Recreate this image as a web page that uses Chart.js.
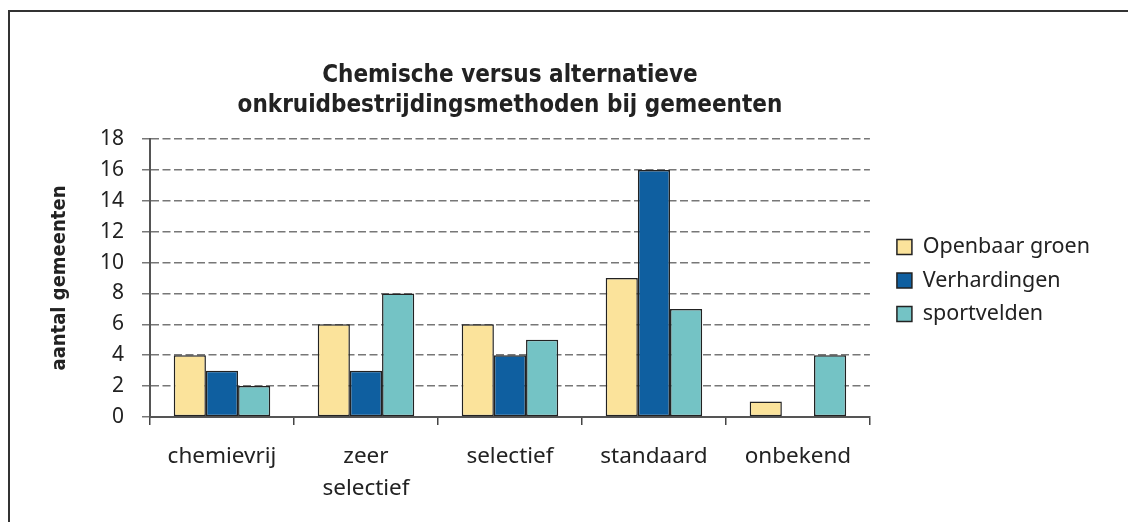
<!DOCTYPE html>
<html>
<head>
<meta charset="utf-8">
<script src="https://cdn.jsdelivr.net/npm/chart.js@4/dist/chart.umd.min.js"></script>
<style>
  body { margin: 0; background: #fff; }
  #frame { position: absolute; left: 8px; top: 10px; width: 1140px; height: 530px;
           border-left: 2px solid #333; border-top: 2px solid #333; }
  #wrap { position: absolute; left: 0; top: 0; width: 1128px; height: 522px; }
</style>
</head>
<body>
<div id="frame"></div>
<div id="wrap"><canvas id="BarChart"></canvas></div>
<script>
// categorieen en waarden
const categories = ['chemievrij', ['zeer', 'selectief'], 'selectief', 'standaard', 'onbekend'];
const openbaarGroen = [4, 6, 6, 9, 1];
const verhardingen = [3, 3, 4, 16, 0];
const sportvelden = [2, 8, 5, 7, 4];
const yTicks = [0, 2, 4, 6, 8, 10, 12, 14, 16, 18];

const fontMain = "'Noto Sans', sans-serif";
const fontTitle = "'DejaVu Sans Condensed', 'Liberation Sans Narrow', 'Noto Sans', sans-serif";

// legenda iets naar rechts en omhoog schuiven
const legendShift = {
    id: 'legendShift',
    afterLayout(chart) {
        const lg = chart.legend;
        if (!lg) return;
        lg.left += 15;
        lg.right += 15;
        lg.top -= 10;
        lg.bottom -= 10;
        (lg.legendHitBoxes || []).forEach(b => { b.left += 15; b.top -= 10; });
    }
};

function initiateBarChart(){
    const grapharea = document.getElementById('BarChart').getContext('2d');

    let barChart = new Chart(grapharea, {
        type: 'bar',
        data: {
            labels: categories,
            datasets: [{
                label: 'Openbaar groen',
                data: openbaarGroen,
                backgroundColor: '#FBE39B',
                borderColor: '#222',
                borderWidth: 1.5
            }, {
                label: 'Verhardingen',
                data: verhardingen,
                backgroundColor: '#0F5FA0',
                borderColor: '#222',
                borderWidth: 1.5
            }, {
                label: 'sportvelden',
                data: sportvelden,
                backgroundColor: '#74C3C5',
                borderColor: '#222',
                borderWidth: 1.5
            }]
        },
        options: {
            responsive: true,
            maintainAspectRatio: false,
            animation: false,
            datasets: {
                bar: { categoryPercentage: 0.67, barPercentage: 1.0, borderSkipped: false }
            },
            layout: { padding: { left: 20, right: 43, top: 61, bottom: 2 } },
            plugins: {
                title: {
                    display: true,
                    fullSize: false,
                    text: ['Chemische versus alternatieve', 'onkruidbestrijdingsmethoden bij gemeenten'],
                    color: '#222',
                    font: { family: fontTitle, size: 24, weight: 'bold', lineHeight: 1.25 },
                    padding: { top: 0, bottom: 18 }
                },
                legend: {
                    position: 'right',
                    labels: {
                        color: '#222',
                        font: { family: fontMain, size: 21.5 },
                        boxWidth: 15,
                        boxHeight: 15,
                        padding: 12
                    }
                },
                tooltip: { enabled: false }
            },
            scales: {
                x: {
                    grid: { display: true, drawOnChartArea: false, offset: true, tickLength: 8, color: '#444', lineWidth: 1.5 },
                    border: { display: true, color: '#555', width: 2 },
                    ticks: { color: '#222', font: { family: fontMain, size: 22.5, lineHeight: 1.4 }, padding: 16, maxRotation: 0 }
                },
                y: {
                    min: 0,
                    max: 18,
                    afterBuildTicks: (scale) => { scale.ticks = yTicks.map(v => ({ value: v })); },
                    afterFit: (scale) => { scale.width = 130; },
                    grid: { color: '#777', lineWidth: 1.5, tickLength: 8 },
                    border: { display: true, color: '#555', width: 2, dash: [8, 3.5] },
                    ticks: { color: '#222', font: { family: fontMain, size: 21 }, padding: 18 },
                    title: {
                        display: true,
                        text: 'aantal gemeenten',
                        color: '#222',
                        font: { family: fontTitle, size: 20, weight: 'bold' },
                        padding: { top: 28, bottom: 0 }
                    }
                }
            }
        },
        plugins: [legendShift]
    });
    return barChart
}

window.initiateBarChart = initiateBarChart;
initiateBarChart();
</script>
</body>
</html>
